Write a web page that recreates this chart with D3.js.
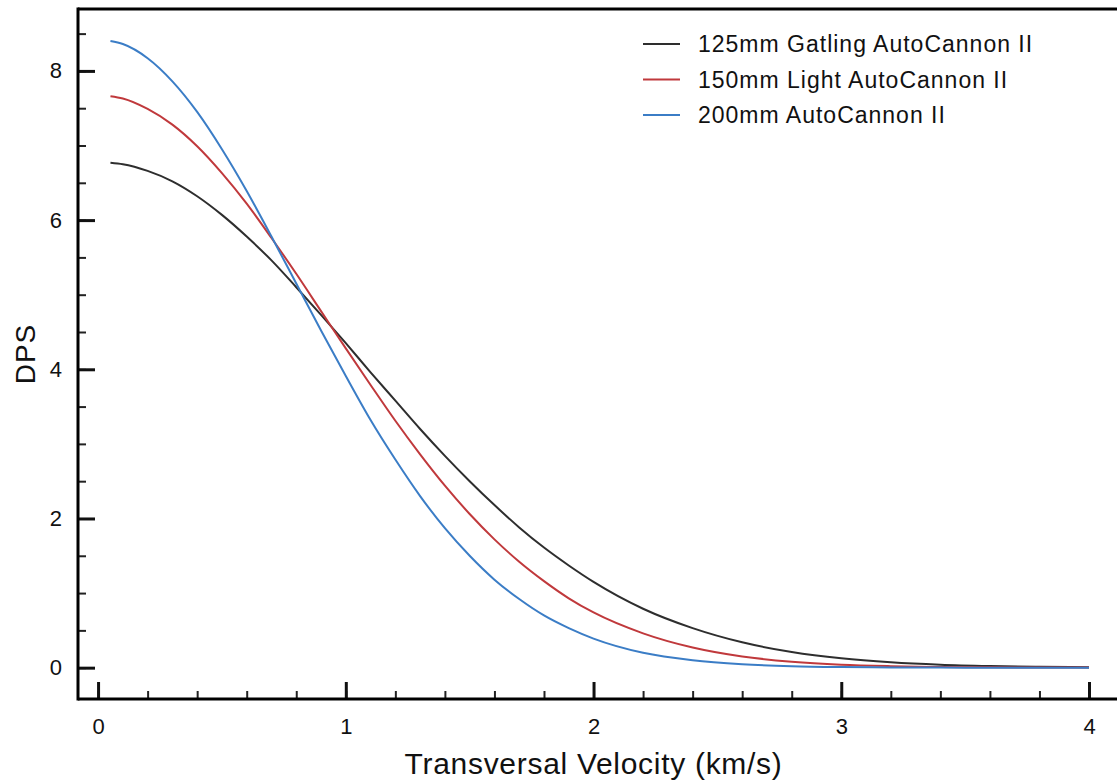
<!DOCTYPE html>
<html>
<head>
<meta charset="utf-8">
<script src="https://cdn.jsdelivr.net/npm/d3@7"></script>
<style>
    body { margin: 0; background: #fff; }
    svg { display: block; }
</style>
</head>
<body>
<svg id="chart" width="1117" height="780"></svg>
<script>
// velocity samples (km/s)
var velocity = [0.05, 0.1, 0.2, 0.3, 0.4, 0.5, 0.6, 0.7, 0.8, 0.9, 1.0, 1.1, 1.2, 1.3, 1.4, 1.5, 1.6, 1.7, 1.8, 1.9, 2.0,
    2.2, 2.4, 2.6, 2.8, 3.0, 3.2, 3.4, 3.6, 3.8, 4.0];

// DPS
var gatling125 = [6.77, 6.75, 6.66, 6.52, 6.32, 6.07, 5.78, 5.46, 5.10, 4.73, 4.35, 3.96, 3.58, 3.20, 2.84, 2.50, 2.18, 1.88, 1.61, 1.37, 1.15,
    0.79, 0.53, 0.34, 0.21, 0.125, 0.072, 0.040, 0.022, 0.011, 0.006];
var light150 = [7.66, 7.63, 7.49, 7.28, 6.99, 6.63, 6.22, 5.76, 5.28, 4.78, 4.28, 3.79, 3.31, 2.86, 2.44, 2.06, 1.72, 1.42, 1.16, 0.93, 0.74,
    0.46, 0.27, 0.15, 0.08, 0.04, 0.02, 0.009, 0.004, 0.002, 0.001];
var auto200 = [8.40, 8.36, 8.17, 7.86, 7.45, 6.95, 6.39, 5.78, 5.15, 4.52, 3.91, 3.32, 2.79, 2.30, 1.87, 1.50, 1.18, 0.92, 0.70, 0.53, 0.39,
    0.20, 0.10, 0.047, 0.020, 0.008, 0.003, 0.001, 0.0004, 0.0001, 0.0];

var seriesNames = ["125mm Gatling AutoCannon II", "150mm Light AutoCannon II", "200mm AutoCannon II"];
var seriesColors = ["#2e2e2e", "#c0393c", "#3b7dc6"];

var xTicks = [0, 1, 2, 3, 4];
var yTicks = [0, 2, 4, 6, 8];

var fontFamily = "'Liberation Sans', Arial, Helvetica, sans-serif";

function drawChart() {
    var svg = d3.select("#chart");

    var left = 78, right = 1117, top = 9, bottom = 699;

    var x = d3.scaleLinear().domain([-0.081, 4.113]).range([left, right]);
    var y = d3.scaleLinear().domain([-0.42, 8.83]).range([bottom, top]);

    var series = [gatling125, light150, auto200];

    // minor ticks first, so major ones sit on top
    var xMinor = svg.append("g")
        .attr("transform", "translate(0," + bottom + ")")
        .call(d3.axisBottom(x).tickValues(d3.range(0, 4.01, 0.2)).tickSize(-8).tickFormat(""));
    xMinor.select(".domain").remove();
    xMinor.selectAll("line").attr("stroke", "#222").attr("stroke-width", 2);

    var yMinor = svg.append("g")
        .attr("transform", "translate(" + left + ",0)")
        .call(d3.axisLeft(y).tickValues(d3.range(0, 8.51, 0.5)).tickSize(-8).tickFormat(""));
    yMinor.select(".domain").remove();
    yMinor.selectAll("line").attr("stroke", "#222").attr("stroke-width", 2);

    var xAxis = svg.append("g")
        .attr("transform", "translate(0," + bottom + ")")
        .call(d3.axisBottom(x).tickValues(xTicks).tickSize(-17).tickPadding(19).tickFormat(d3.format("d")));
    xAxis.select(".domain").remove();
    xAxis.selectAll("line").attr("stroke", "#111").attr("stroke-width", 3);
    xAxis.selectAll("text")
        .attr("font-family", fontFamily)
        .attr("font-size", 22)
        .attr("fill", "#111");

    var yAxis = svg.append("g")
        .attr("transform", "translate(" + left + ",0)")
        .call(d3.axisLeft(y).tickValues(yTicks).tickSize(-17).tickPadding(16).tickFormat(d3.format("d")));
    yAxis.select(".domain").remove();
    yAxis.selectAll("line").attr("stroke", "#111").attr("stroke-width", 3);
    yAxis.selectAll("text")
        .attr("font-family", fontFamily)
        .attr("font-size", 22)
        .attr("fill", "#111");

    // frame: left, bottom and top spines
    var frame = svg.append("g").attr("stroke", "#000").attr("stroke-width", 3).attr("fill", "none");
    frame.append("line").attr("x1", left).attr("x2", left).attr("y1", top - 1.5).attr("y2", bottom + 1.5);
    frame.append("line").attr("x1", left).attr("x2", right).attr("y1", bottom).attr("y2", bottom);
    frame.append("line").attr("x1", left).attr("x2", right).attr("y1", top).attr("y2", top);

    var line = d3.line()
        .x(function(d, i) { return x(velocity[i]); })
        .y(function(d) { return y(d); })
        .curve(d3.curveMonotoneX);

    svg.append("g")
        .selectAll("path")
        .data(series)
        .enter().append("path")
        .attr("d", line)
        .attr("fill", "none")
        .attr("stroke", function(d, i) { return seriesColors[i]; })
        .attr("stroke-width", 2);

    // legend
    var legend = svg.append("g")
        .selectAll("g")
        .data(seriesNames)
        .enter().append("g")
        .attr("transform", function(d, i) { return "translate(643," + (44 + i * 35.5) + ")"; });

    legend.append("line")
        .attr("x1", 0).attr("x2", 37)
        .attr("stroke", function(d, i) { return seriesColors[i]; })
        .attr("stroke-width", 2);

    legend.append("text")
        .attr("x", 55)
        .attr("dy", "0.35em")
        .attr("font-family", fontFamily)
        .attr("font-size", 23)
        .attr("letter-spacing", 1)
        .attr("fill", "#111")
        .text(function(d) { return d; });

    // axis titles
    svg.append("text")
        .attr("x", x(2))
        .attr("y", 774)
        .attr("text-anchor", "middle")
        .attr("font-family", fontFamily)
        .attr("font-size", 30)
        .attr("letter-spacing", 0.7)
        .attr("fill", "#111")
        .text("Transversal Velocity (km/s)");

    svg.append("text")
        .attr("transform", "translate(35," + ((top + bottom) / 2) + ") rotate(-90)")
        .attr("text-anchor", "middle")
        .attr("font-family", fontFamily)
        .attr("font-size", 28)
        .attr("letter-spacing", 1)
        .attr("fill", "#111")
        .text("DPS");
}

drawChart();
</script>
</body>
</html>
